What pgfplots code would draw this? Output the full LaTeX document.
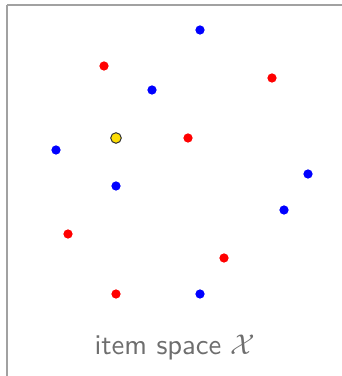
\documentclass[border=0pt]{standalone}
\usepackage{pgfplots}
\pgfplotsset{compat=1.18}
\begin{document}
\begin{tikzpicture}
\pgfmathsetmacro{\s}{0.35}
\begin{axis}[
  scale only axis,
  width=334.5*0.35pt, height=370.5*0.35pt,
  xmin=7.5, xmax=342, ymin=0, ymax=370.5,
  axis x line=top, axis y line=left,
  axis line style={draw=black!37, line width=0.7pt, -},
  xtick=\empty, ytick=\empty,
  clip=false,
]
\addplot[only marks, mark=*, mark size=1.4pt, color=blue, mark options={draw=blue, fill=blue}] coordinates {
(200,346) (152,286) (56,226) (116,190) (308,202) (284,166) (200,82)
};
\addplot[only marks, mark=*, mark size=1.4pt, color=red, mark options={draw=red, fill=red}] coordinates {
(104,310) (272,298) (188,238) (68,142) (224,118) (116,82)
};
\addplot[only marks, mark=*, mark size=1.85pt, mark options={draw=black!80, fill=yellow!80!orange, line width=0.35pt}] coordinates {
(116,238)
};
\node[anchor=base, text=black!57, font=\sffamily] at (axis cs:175,22) {item space $\mathcal{X}$};
\coordinate (bl) at (axis cs:0,0);
\coordinate (tr) at (axis cs:342,376);
\end{axis}
\pgfresetboundingbox
\path (bl) rectangle (tr);
\end{tikzpicture}
\end{document}
